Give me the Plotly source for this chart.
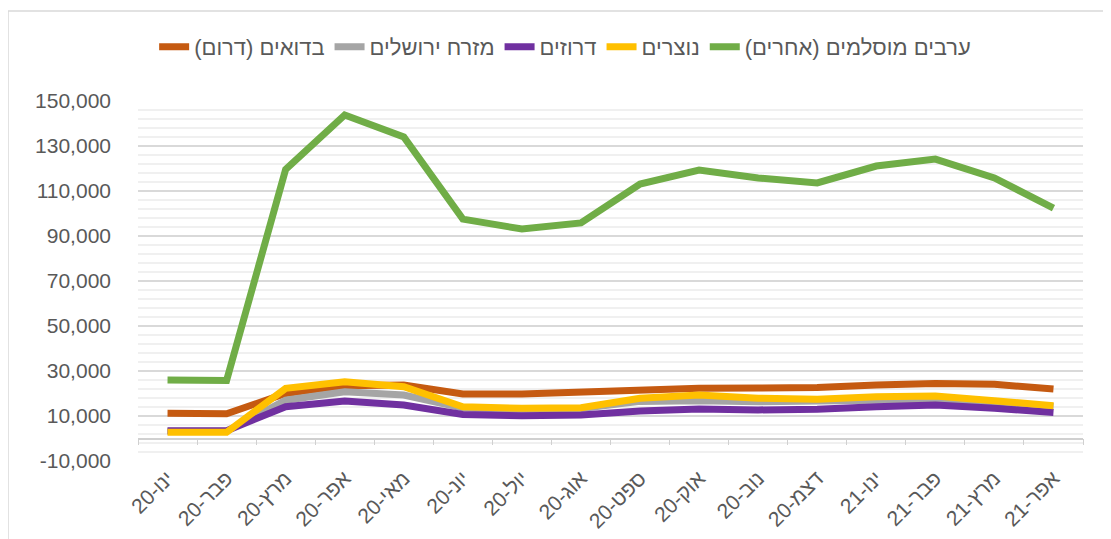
import plotly.graph_objects as go

months = ["ינו-20", "פבר-20", "מרץ-20", "אפר-20", "מאי-20", "יונ-20", "יול-20", "אוג-20",
          "ספט-20", "אוק-20", "נוב-20", "דצמ-20", "ינו-21", "פבר-21", "מרץ-21", "אפר-21"]

y_tick_values = [-10000, 10000, 30000, 50000, 70000, 90000, 110000, 130000, 150000]
y_tick_labels = ["-10,000", "10,000", "30,000", "50,000", "70,000", "90,000",
                 "110,000", "130,000", "150,000"]

bedouin = [11200, 11000, 20000, 23500, 23800, 19800, 19800, 20700,
           22000, 22300, 22400, 22700, 23800, 24500, 24100, 22000]
east_jerusalem = [3200, 3200, 17000, 20800, 19300, 13500, 13000, 13300,
                  16500, 16800, 16300, 16300, 17000, 17300, 15500, 14200]
druze = [3500, 3500, 14100, 16700, 14900, 10700, 10100, 10400,
         12200, 13100, 12700, 13000, 14100, 14900, 13400, 11600]
christians = [2800, 2800, 22300, 25200, 23000, 14100, 13400, 13700,
              17900, 19300, 17900, 17400, 18600, 18900, 16800, 14600]
arabs_other = [26000, 25800, 119600, 143800, 134000, 97500, 93100, 95800,
               113100, 119300, 115800, 113600, 121100, 124200, 115800, 102400]

series = [
    ("בדואים (דרום)", bedouin, "#C55A11"),
    ("מזרח ירושלים", east_jerusalem, "#A5A5A5"),
    ("דרוזים", druze, "#7030A0"),
    ("נוצרים", christians, "#FFC000"),
    ("ערבים מוסלמים (אחרים)", arabs_other, "#70AD47"),
]

FONT = "Liberation Sans, Arial, sans-serif"
fig = go.Figure()

# hidden trace that carries the category axis drawn at zero (tick marks)
fig.add_trace(go.Scatter(x=months, y=bedouin, xaxis="x2", mode="lines",
                         line=dict(width=0, color="rgba(0,0,0,0)"),
                         showlegend=False, hoverinfo="skip"))

for name, vals, color in series:
    fig.add_trace(go.Scatter(x=months, y=vals, name=name, mode="lines",
                             line=dict(color=color, width=7, shape="linear")))

# page body has an 8px margin, so the figure is shifted by it
fig.update_layout(
    width=1103, height=531,
    margin=dict(l=130, r=28, t=93, b=78, autoexpand=False),
    paper_bgcolor="white", plot_bgcolor="white",
    font=dict(family=FONT, size=21, color="#595959"),
    showlegend=True,
    legend=dict(orientation="h", x=0.452, xanchor="center", y=1.15, yanchor="middle",
                font=dict(family=FONT, size=22, color="#595959"),
                itemwidth=30, tracegroupgap=0, bgcolor="rgba(0,0,0,0)"),
    xaxis=dict(type="category", showgrid=False, showline=False, ticks="",
               tickangle=-45, tickfont=dict(size=21, color="#595959"),
               range=[-0.5, len(months) - 0.5]),
    xaxis2=dict(type="category", overlaying="x", anchor="free",
                position=10000 / 160000, side="bottom", showline=True,
                linecolor="#d0d0d0", linewidth=1.5, ticks="outside",
                tickson="boundaries", ticklen=6, tickcolor="#d0d0d0",
                showticklabels=False, showgrid=False,
                range=[-0.5, len(months) - 0.5]),
    yaxis=dict(range=[-10000, 150000], tickmode="array", tickvals=y_tick_values,
               ticktext=y_tick_labels, showgrid=True, gridcolor="#d9d9d9", gridwidth=1.5,
               zeroline=True, zerolinecolor="#d0d0d0", zerolinewidth=1.5,
               showline=False, ticks="", ticklabelstandoff=26,
               tickfont=dict(size=21, color="#595959"),
               minor=dict(dtick=4000, tick0=-10000, showgrid=True,
                          gridcolor="#f0f0f0", gridwidth=1.5)),
    shapes=[dict(type="rect", xref="paper", yref="paper",
                 x0=-130 / 945, x1=1.2, y0=-0.5, y1=(461 - 11) / 360,
                 line=dict(color="#d9d9d9", width=1.5), fillcolor="rgba(0,0,0,0)",
                 layer="below")],
)

fig.write_html("out.html")
